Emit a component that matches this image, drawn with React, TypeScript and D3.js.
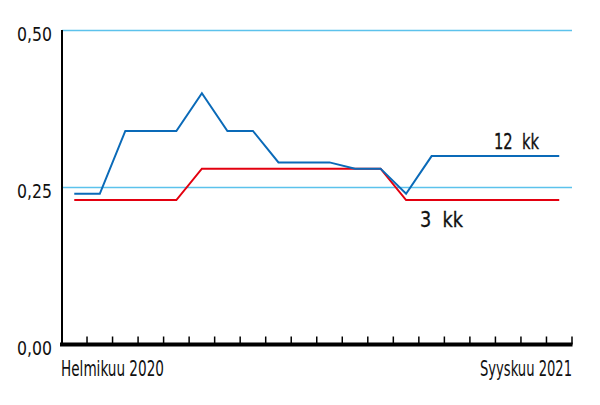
import React, { useLayoutEffect, useRef, useState } from "react";
import * as d3 from "d3";

const months = [
  "2020-02", "2020-03", "2020-04", "2020-05", "2020-06", "2020-07", "2020-08",
  "2020-09", "2020-10", "2020-11", "2020-12", "2021-01", "2021-02", "2021-03",
  "2021-04", "2021-05", "2021-06", "2021-07", "2021-08", "2021-09",
];
const euribor12 = [
  0.24, 0.24, 0.34, 0.34, 0.34, 0.40, 0.34, 0.34, 0.29, 0.29,
  0.29, 0.28, 0.28, 0.24, 0.30, 0.30, 0.30, 0.30, 0.30, 0.30,
];
const euribor3 = [
  0.23, 0.23, 0.23, 0.23, 0.23, 0.28, 0.28, 0.28, 0.28, 0.28,
  0.28, 0.28, 0.28, 0.23, 0.23, 0.23, 0.23, 0.23, 0.23, 0.23,
];
const yTicks = [0, 0.25, 0.5];
const yTickLabels = ["0,00", "0,25", "0,50"];
const xEndLabels = ["Helmikuu 2020", "Syyskuu 2021"];
const seriesLabels = ["12  kk", "3  kk"];

const W = 600;
const H = 405;
const M = { left: 62, right: 572, top: 30.5, bottom: 344.5 };
const FONT = "'DejaVu Sans Condensed', 'DejaVu Sans', sans-serif";

type FitProps = {
  x: number;
  y: number;
  width: number;
  anchor?: "start" | "end";
  size: number;
  bold?: boolean;
  children: string;
};

function FitText({ x, y, width, anchor = "start", size, bold, children }: FitProps) {
  const ref = useRef<SVGTextElement>(null);
  const [sx, setSx] = useState(0.75);
  useLayoutEffect(() => {
    if (ref.current) {
      const w = ref.current.getComputedTextLength();
      if (w > 0) setSx(width / w);
    }
  }, [width, children]);
  return (
    <text
      ref={ref}
      transform={`translate(${x},${y}) scale(${sx},1)`}
      textAnchor={anchor}
      fontFamily={FONT}
      fontSize={size}
      fill="#111"
      stroke={bold ? "#111" : "none"}
      strokeWidth={bold ? 0.3 : 0}
      style={{ whiteSpace: "pre" }}
    >
      {children}
    </text>
  );
}

export default function App() {
  const x = d3.scaleBand<string>().domain(months).range([M.left - 0.5, M.right]).padding(0);
  const y = d3.scaleLinear().domain([0, 0.5]).range([M.bottom, M.top]);
  const cx = (i: number) => (x(months[i]) as number) + x.bandwidth() / 2;
  const line = d3
    .line<number>()
    .x((_, i) => cx(i))
    .y((d) => y(d))
    .curve(d3.curveLinear);

  const tickXs = months.map((m) => x(m) as number).concat([M.right]);

  return (
    <svg width={W} height={H} style={{ position: "absolute", left: 0, top: 0, background: "#fff" }}>
      {yTicks
        .filter((t) => t > 0)
        .map((t) => (
          <line key={t} x1={M.left} x2={M.right} y1={y(t)} y2={y(t)} stroke="#5cc2ec" strokeWidth={1.3} />
        ))}
      <path d={line(euribor3) || ""} fill="none" stroke="#e3000f" strokeWidth={2} />
      <path d={line(euribor12) || ""} fill="none" stroke="#0a6ab8" strokeWidth={2} />
      <line x1={M.left} x2={M.left} y1={M.top - 0.5} y2={M.bottom} stroke="#000" strokeWidth={2} />
      <line x1={M.left - 2} x2={M.right + 0.5} y1={M.bottom} y2={M.bottom} stroke="#000" strokeWidth={4} />
      {tickXs.slice(1).map((tx, i) => (
        <line key={i} x1={tx} x2={tx} y1={M.bottom} y2={M.bottom - 8} stroke="#000" strokeWidth={1.5} />
      ))}
      {yTicks.map((t, i) => (
        <FitText key={t} x={52} y={y(t) + 10} width={35} anchor="end" size={19.5}>
          {yTickLabels[i]}
        </FitText>
      ))}
      <FitText x={M.left - 1} y={375.5} width={103} size={20.5}>
        {xEndLabels[0]}
      </FitText>
      <FitText x={572} y={375.5} width={92} anchor="end" size={20.5}>
        {xEndLabels[1]}
      </FitText>
      <FitText x={494} y={149} width={45} size={20.5} bold>
        {seriesLabels[0]}
      </FitText>
      <FitText x={420} y={227.3} width={43} size={20.5} bold>
        {seriesLabels[1]}
      </FitText>
    </svg>
  );
}
